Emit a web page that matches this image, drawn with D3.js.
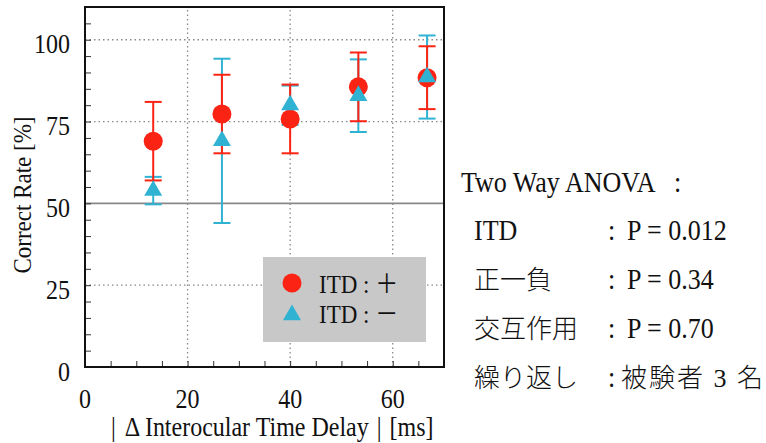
<!DOCTYPE html>
<html>
<head>
<meta charset="utf-8">
<script src="https://cdn.jsdelivr.net/npm/d3@7"></script>
<style>
  body { margin: 0; background: #fff; }
  text { font-family: "Liberation Serif", "Noto Sans CJK JP", serif; fill: #111; }
  .cjk { font-weight: 300; }
</style>
</head>
<body>
<svg class="chart" width="766" height="443"></svg>
<script>
// delay (ms) for each condition
var delays = [13.3, 26.7, 40, 53.3, 66.7];
// ITD + (red circles)
var plusMean = [69.0, 77.3, 75.8, 85.6, 88.4];
var plusErr = [12.0, 12.0, 10.5, 10.5, 9.6];
// ITD - (blue triangles)
var minusMean = [53.9, 69.1, 80.0, 82.9, 88.6];
var minusErr = [4.2, 25.1, 6.0, 11.1, 12.7];

var xTicks = [0, 20, 40, 60];
var yTicks = [0, 25, 50, 75, 100];
var xGrid = [20, 40, 60];
var yGrid = [25, 75, 100];
var chanceLevel = 50;

var legendLabels = ["ITD : ＋", "ITD : －"];
var statsTitle = "Two Way ANOVA";
var statsNames = ["ITD", "正一負", "交互作用", "繰り返し"];
var statsValues = ["P = 0.012", "P = 0.34", "P = 0.70", "被験者 3 名"];

var red = "#fb2414", blue = "#30b2d2";
var stretch = 1.13; // the lettering in the figure is a little taller than wide

function at(px, py, s) {
    return "translate(" + px + "," + py + ") scale(1," + (s || stretch) + ")";
}

var svg = d3.select(".chart");
var x = d3.scaleLinear().domain([0, 70]).range([85, 444]);
var y = d3.scaleLinear().domain([0, 110]).range([367, 7]);

// grid lines
svg.append("g").selectAll("line").data(xGrid).enter().append("line")
    .attr("x1", function(d) { return x(d); }).attr("x2", function(d) { return x(d); })
    .attr("y1", y(0)).attr("y2", y(110))
    .attr("stroke", "#888").attr("stroke-width", 1.3).attr("stroke-dasharray", "1.5,3");
svg.append("g").selectAll("line").data(yGrid).enter().append("line")
    .attr("x1", x(0)).attr("x2", x(70))
    .attr("y1", function(d) { return y(d); }).attr("y2", function(d) { return y(d); })
    .attr("stroke", "#888").attr("stroke-width", 1.3).attr("stroke-dasharray", "1.5,3");
svg.append("line")
    .attr("x1", x(0)).attr("x2", x(70))
    .attr("y1", y(chanceLevel)).attr("y2", y(chanceLevel))
    .attr("stroke", "#888").attr("stroke-width", 1.6);

// minor ticks on left and bottom
var yAxis = d3.axisRight(y).tickValues(d3.range(0, 111, 5)).tickSize(6).tickFormat("");
svg.append("g").attr("transform", "translate(" + x(0) + ",0)").call(yAxis)
    .call(function(g) { g.select(".domain").remove(); g.selectAll(".tick line").attr("stroke", "#333"); });
var xAxis = d3.axisTop(x).tickValues(d3.range(0, 71, 5)).tickSize(6).tickFormat("");
svg.append("g").attr("transform", "translate(0," + y(0) + ")").call(xAxis)
    .call(function(g) { g.select(".domain").remove(); g.selectAll(".tick line").attr("stroke", "#333"); });

// tick labels
svg.append("g").selectAll("text").data(yTicks).enter().append("text")
    .attr("transform", function(d) { return at(70, y(d) + 13.5); })
    .attr("text-anchor", "end").attr("font-size", 24)
    .text(function(d) { return d; });
svg.append("g").selectAll("text").data(xTicks).enter().append("text")
    .attr("transform", function(d) { return at(x(d), 408); })
    .attr("text-anchor", "middle").attr("font-size", 24)
    .text(function(d) { return d; });

// axis titles
svg.append("text")
    .attr("transform", "translate(31,195) rotate(-90) scale(1," + stretch + ")")
    .attr("text-anchor", "middle").attr("font-size", 23)
    .text("Correct Rate [%]");
var xTitle = svg.append("text")
    .attr("transform", at(111, 436))
    .attr("font-size", 24);
xTitle.append("tspan").text("|");
xTitle.append("tspan").attr("dx", 9).text("Δ Interocular Time Delay");
xTitle.append("tspan").attr("dx", 8).text("|");
xTitle.append("tspan").attr("dx", 8).text("[ms]");

// error bars
function errorBars(mean, err, color) {
    var g = svg.append("g").attr("stroke", color).attr("stroke-width", 2);
    delays.forEach(function(d, i) {
        var cx = x(d), lo = y(mean[i] - err[i]), hi = y(mean[i] + err[i]);
        g.append("line").attr("x1", cx).attr("x2", cx).attr("y1", lo).attr("y2", hi);
        g.append("line").attr("x1", cx - 8.5).attr("x2", cx + 8.5).attr("y1", lo).attr("y2", lo);
        g.append("line").attr("x1", cx - 8.5).attr("x2", cx + 8.5).attr("y1", hi).attr("y2", hi);
    });
}
errorBars(minusMean, minusErr, blue);
errorBars(plusMean, plusErr, red);

svg.append("g").selectAll("circle").data(delays).enter().append("circle")
    .attr("cx", function(d) { return x(d); })
    .attr("cy", function(d, i) { return y(plusMean[i]); })
    .attr("r", 9.5).attr("fill", red);

var tri = d3.symbol().type(d3.symbolTriangle).size(140);
svg.append("g").selectAll("path").data(delays).enter().append("path")
    .attr("d", tri)
    .attr("transform", function(d, i) { return "translate(" + x(d) + "," + y(minusMean[i]) + ")"; })
    .attr("fill", blue);

// frame
svg.append("rect")
    .attr("x", x(0)).attr("y", y(110))
    .attr("width", x(70) - x(0)).attr("height", y(0) - y(110))
    .attr("fill", "none").attr("stroke", "#111").attr("stroke-width", 2);

// legend
var legend = svg.append("g").attr("transform", "translate(263,257)");
legend.append("rect").attr("width", 163).attr("height", 85).attr("fill", "#c8c8c8");
legend.append("circle").attr("cx", 29).attr("cy", 26).attr("r", 9.5).attr("fill", red);
legend.append("path").attr("d", tri).attr("transform", "translate(29,58)").attr("fill", blue);
legend.selectAll("text").data(legendLabels).enter().append("text")
    .attr("transform", function(d, i) { return at(56, 36 + i * 30); })
    .attr("font-size", 23)
    .text(function(d) { return d; });

// ANOVA summary
svg.append("text").attr("transform", at(461, 192)).attr("font-size", 26).text(statsTitle);
svg.append("text").attr("transform", at(674, 192)).attr("font-size", 26).text(":");
var rows = svg.append("g").selectAll("g").data(statsNames).enter().append("g");
rows.append("text")
    .attr("class", function(d, i) { return i > 0 ? "cjk" : null; })
    .attr("transform", function(d, i) { return at(474, 240 + i * 49, i > 0 ? 1 : stretch); })
    .attr("font-size", 26)
    .text(function(d) { return d; });
rows.append("text")
    .attr("transform", function(d, i) { return at(608, 240 + i * 49); })
    .attr("font-size", 26)
    .text(":");
rows.append("text")
    .attr("class", function(d, i) { return i == 3 ? "cjk" : null; })
    .attr("transform", function(d, i) { return i == 3 ? at(621, 240 + i * 49, 1) : at(627, 240 + i * 49); })
    .attr("font-size", 26)
    .attr("letter-spacing", function(d, i) { return i == 3 ? 2 : 0; })
    .text(function(d, i) { return statsValues[i]; });
</script>
</body>
</html>
